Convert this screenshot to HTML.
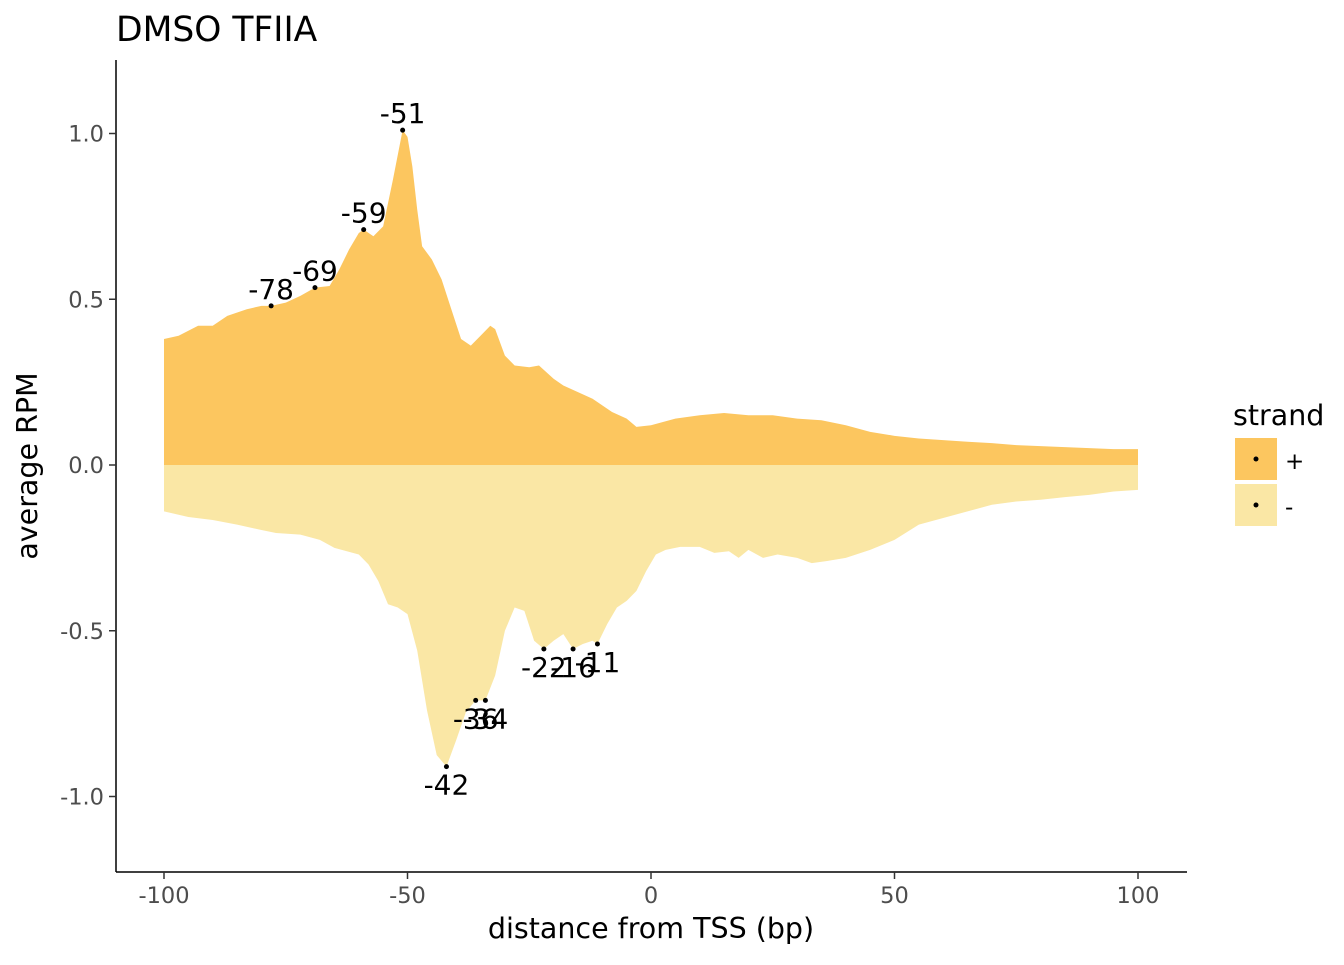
<!DOCTYPE html>
<html><head><meta charset="utf-8"><style>
body{margin:0;background:#fff}
svg text{font-family:"DejaVu Sans","Liberation Sans",sans-serif}
</style></head><body>
<svg id="c" width="1344" height="960" xmlns="http://www.w3.org/2000/svg">
<text x="116" y="41" font-size="34.5" fill="#000">DMSO TFIIA</text>
<g id="plot"></g>
<line x1="116" y1="60" x2="116" y2="872" stroke="#000" stroke-width="1.5"/>
<line x1="116" y1="872" x2="1187" y2="872" stroke="#000" stroke-width="1.5"/>
<g id="axes"></g>
<text x="651" y="938" font-size="28.5" text-anchor="middle">distance from TSS (bp)</text>
<text transform="translate(37,466) rotate(-90)" font-size="28.5" text-anchor="middle">average RPM</text>
<g>
<text x="1233" y="425" font-size="28.5">strand</text>
<rect x="1235" y="438" width="42" height="42" fill="#FCC65F"/>
<circle cx="1256" cy="459" r="2.5" fill="#000"/>
<text x="1285" y="469" font-size="23">+</text>
<rect x="1235" y="484" width="42" height="42" fill="#FAE7A5"/>
<circle cx="1256" cy="505" r="2.5" fill="#000"/>
<text x="1285" y="515" font-size="23">-</text>
</g>
</svg>
<script>
const plusX=[-100,-97,-93,-90,-87,-83,-80,-78,-75,-72,-69,-66,-64,-62,-60,-59,-57,-55,-53,-51,-50,-49,-48,-47,-45,-43,-41,-39,-37,-35,-33,-32,-30,-28,-25,-23,-20,-18,-15,-12,-10,-8,-5,-3,0,5,10,15,20,25,30,35,40,45,50,55,60,65,70,75,80,85,90,95,100];
const plusY=[0.38,0.39,0.42,0.42,0.45,0.47,0.48,0.48,0.49,0.51,0.535,0.54,0.59,0.65,0.70,0.71,0.69,0.72,0.86,1.01,0.99,0.9,0.77,0.66,0.62,0.56,0.47,0.38,0.36,0.39,0.42,0.41,0.33,0.30,0.295,0.30,0.26,0.24,0.22,0.20,0.18,0.16,0.14,0.115,0.12,0.14,0.15,0.157,0.15,0.15,0.14,0.135,0.12,0.10,0.088,0.08,0.075,0.07,0.066,0.06,0.057,0.054,0.051,0.048,0.048];
const minusX=[-100,-95,-90,-85,-80,-77,-72,-68,-65,-60,-58,-56,-54,-52,-50,-48,-46,-44,-42,-40,-38,-36,-34,-32,-30,-28,-26,-24,-22,-20,-18,-16,-14,-12,-11,-9,-7,-5,-3,-1,1,3,6,10,13,16,18,20,23,26,30,33,36,40,45,50,55,60,65,70,75,80,85,90,95,100];
const minusY=[-0.14,-0.157,-0.166,-0.18,-0.196,-0.205,-0.21,-0.226,-0.25,-0.27,-0.30,-0.35,-0.42,-0.43,-0.45,-0.56,-0.74,-0.875,-0.91,-0.83,-0.745,-0.71,-0.71,-0.635,-0.5,-0.43,-0.44,-0.53,-0.555,-0.53,-0.51,-0.555,-0.54,-0.53,-0.54,-0.48,-0.43,-0.41,-0.38,-0.32,-0.27,-0.256,-0.247,-0.247,-0.265,-0.26,-0.28,-0.256,-0.28,-0.27,-0.28,-0.296,-0.29,-0.28,-0.256,-0.226,-0.18,-0.16,-0.14,-0.12,-0.11,-0.105,-0.097,-0.09,-0.08,-0.075];
const peakPlusX=[-78,-69,-59,-51];
const peakPlusY=[0.48,0.535,0.71,1.01];
const peakMinusX=[-42,-36,-34,-22,-16,-11];
const peakMinusY=[-0.91,-0.71,-0.71,-0.555,-0.555,-0.54];
const xTicks=[-100,-50,0,50,100];
const xTickLabels=["-100","-50","0","50","100"];
const yTicks=[-1,-0.5,0,0.5,1];
const yTickLabels=["-1.0","-0.5","0.0","0.5","1.0"];
const NS="http://www.w3.org/2000/svg";
const sx=v=>651+v*4.87, sy=v=>465-v*331.5;
const plot=document.getElementById('plot'), axes=document.getElementById('axes');
function mk(t,a,p){const e=document.createElementNS(NS,t);for(const k in a)e.setAttribute(k,a[k]);p.appendChild(e);return e;}
function area(xs,ys,fill,name){let d=`M${sx(xs[0])},${sy(0)}`;xs.forEach((x,i)=>d+=`L${sx(x)},${sy(ys[i])}`);d+=`L${sx(xs[xs.length-1])},${sy(0)}Z`;
const p=mk('path',{d:d,fill:fill},plot);

}
area(plusX,plusY,'#FCC65F','area-plus-strand');
area(minusX,minusY,'#FAE7A5','area-minus-strand');
function peaks(xs,ys,dy){xs.forEach((x,i)=>{
const c=mk('circle',{cx:sx(x),cy:sy(ys[i]),r:2.5,fill:'#000'},plot);


const t=mk('text',{x:sx(x),y:sy(ys[i])+dy,'font-size':28,'text-anchor':'middle'},plot);t.textContent=String(x);

});}
peaks(peakPlusX,peakPlusY,-7);
peaks(peakMinusX,peakMinusY,28);
xTicks.forEach((v,i)=>{mk('line',{x1:sx(v),x2:sx(v),y1:872,y2:879,stroke:'#333','stroke-width':1.5},axes);
const t=mk('text',{x:sx(v),y:903,'font-size':22.5,fill:'#4d4d4d','text-anchor':'middle'},axes);t.textContent=xTickLabels[i];

});
yTicks.forEach((v,i)=>{mk('line',{x1:109,x2:116,y1:sy(v),y2:sy(v),stroke:'#333','stroke-width':1.5},axes);
const t=mk('text',{x:104,y:sy(v)+8,'font-size':22.5,fill:'#4d4d4d','text-anchor':'end'},axes);t.textContent=yTickLabels[i];

});
</script>
</body></html>
